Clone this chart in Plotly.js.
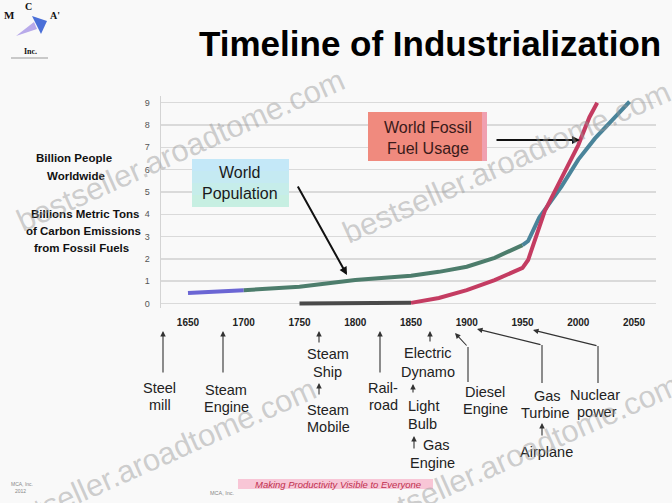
<!DOCTYPE html>
<html>
<head>
<meta charset="utf-8">
<script src="https://cdn.plot.ly/plotly-3.0.1.min.js"></script>
<style>html,body{margin:0;padding:0;background:#f9f9f9;}#chart{width:672px;height:503px;}</style>
</head>
<body>
<div id="chart"></div>
<script>
// ---- data ----
const tickYears = [1650, 1700, 1750, 1800, 1850, 1900, 1950, 2000, 2050];
const yTicks = [0, 1, 2, 3, 4, 5, 6, 7, 8, 9];

const popYears  = [1650, 1700, 1750, 1800, 1850, 1875, 1900, 1925, 1950, 1955, 1965, 1985, 2000, 2015, 2030, 2046];
const popValues = [0.47, 0.60, 0.75, 1.05, 1.25, 1.42, 1.65, 2.05, 2.62, 2.80, 3.85, 5.25, 6.45, 7.40, 8.20, 9.05];

const fossilYears  = [1750, 1800, 1850, 1875, 1900, 1925, 1950, 1955, 1970, 1990, 2000, 2010, 2017];
const fossilValues = [0, 0, 0.03, 0.25, 0.60, 1.05, 1.60, 1.95, 4.15, 6.10, 7.10, 8.35, 9.00];

const events = [
  {lines: ["Steel", "mill"]},
  {lines: ["Steam", "Engine"]},
  {lines: ["Steam", "Ship"]},
  {lines: ["Steam", "Mobile"]},
  {lines: ["Rail-", "road"]},
  {lines: ["Electric", "Dynamo"]},
  {lines: ["Light", "Bulb"]},
  {lines: ["Gas", "Engine"]},
  {lines: ["Diesel", "Engine"]},
  {lines: ["Gas", "Turbine"]},
  {lines: ["Nuclear", "power"]},
  {lines: ["Airplane"]}
];

// ---- geometry of the plot area (pixels) ----
const L = 161, R = 656, T = 96, B = 308;
const W = R - L, H = B - T;
const px = v => (v - L) / W;
const py = v => (B - v) / H;

function seg(xs, ys, from, to) {
  const ox = [], oy = [];
  xs.forEach((x, i) => { if (x >= from && x <= to) { ox.push(x); oy.push(ys[i]); } });
  return {x: ox, y: oy};
}

const traces = [];
function addLine(s, color) {
  traces.push({type: 'scatter', mode: 'lines', x: s.x, y: s.y,
    line: {color: color, width: 4}, hoverinfo: 'skip', showlegend: false});
}
addLine(seg(popYears, popValues, 1650, 1700), '#6b66d4');
addLine(seg(popYears, popValues, 1700, 1950), '#4d7d6c');
addLine(seg(popYears, popValues, 1950, 2100), '#4a849a');
addLine(seg(fossilYears, fossilValues, 1750, 1850), '#4a4a4a');
addLine(seg(fossilYears, fossilValues, 1850, 2100), '#c43c62');

const annotations = [];
const shapes = [];

function txt(x, y, text, size, opts) {
  annotations.push(Object.assign({xref: 'paper', yref: 'paper', x: px(x), y: py(y), text: text,
    showarrow: false, xanchor: 'center', yanchor: 'middle',
    font: {family: 'Arial, Liberation Sans', size: size, color: '#222'}}, opts || {}));
}
function arrow(hx, hy, tx, ty, opts) {
  annotations.push(Object.assign({xref: 'paper', yref: 'paper', x: px(hx), y: py(hy),
    ax: tx - hx, ay: ty - hy, text: '', showarrow: true, arrowhead: 2, arrowsize: 1,
    arrowwidth: 1.1, arrowcolor: '#333'}, opts || {}));
}
function line(x0, y0, x1, y1, color, width) {
  shapes.push({type: 'line', xref: 'paper', yref: 'paper', x0: px(x0), y0: py(y0), x1: px(x1), y1: py(y1),
    line: {color: color || '#333', width: width || 1.1}});
}
function rect(x0, y0, x1, y1, fill) {
  shapes.push({type: 'rect', xref: 'paper', yref: 'paper', x0: px(x0), y0: py(y0), x1: px(x1), y1: py(y1),
    fillcolor: fill, line: {width: 0}, layer: 'above'});
}

// title
txt(430, 43, '<b>Timeline of Industrialization</b>', 35, {font: {family: 'Arial, Liberation Sans', size: 35, color: '#000'}});

// logo
txt(9, 15, '<b>M</b>', 11, {font: {family: 'Liberation Serif, Times New Roman', size: 11, color: '#111'}});
txt(28, 6, '<b>C</b>', 10, {font: {family: 'Liberation Serif, Times New Roman', size: 10, color: '#111'}});
txt(55, 15, '<b>A\'</b>', 10, {font: {family: 'Liberation Serif, Times New Roman', size: 10, color: '#111'}});
txt(30, 51, '<b>Inc.</b>', 8, {font: {family: 'Liberation Serif, Times New Roman', size: 8, color: '#111'}});
shapes.push({type: 'path', xref: 'paper', yref: 'paper', layer: 'above',
  path: `M ${px(16)} ${py(36)} L ${px(34)} ${py(22)} L ${px(37)} ${py(29)} Z`, fillcolor: '#b8aaea', line: {width: 0}});
shapes.push({type: 'path', xref: 'paper', yref: 'paper', layer: 'above',
  path: `M ${px(32)} ${py(16)} L ${px(47)} ${py(21)} L ${px(41)} ${py(34)} Z`, fillcolor: '#4a6fd8', line: {width: 0}});
line(11, 58, 48, 58, '#999', 1);

// left axis descriptions
const lf = {family: 'Arial, Liberation Sans', size: 11.5, color: '#111'};
txt(74, 158, '<b>Billion People</b>', 11.5, {font: lf});
txt(76, 176, '<b>Worldwide</b>', 11.5, {font: lf});
txt(85, 214, '<b>Billions Metric Tons</b>', 11.5, {font: lf});
txt(83, 231, '<b>of Carbon Emissions</b>', 11.5, {font: lf});
txt(81, 248, '<b>from Fossil Fuels</b>', 11.5, {font: lf});

// World Population box (light blue -> mint)
const popFills = ['#c4e8f8', '#c5eaf2', '#c6edea', '#c7efe2'];
popFills.forEach((c, i) => rect(192, 159 + i * 12, 289, 159 + (i + 1) * 12, c));
txt(240, 172, 'World', 16, {font: {family: 'Arial, Liberation Sans', size: 16, color: '#1a1a1a'}});
txt(240, 193, 'Population', 16, {font: {family: 'Arial, Liberation Sans', size: 16, color: '#1a1a1a'}});
arrow(347, 275, 297, 185, {arrowwidth: 2, arrowcolor: '#111', arrowsize: 0.8});

// World Fossil Fuel Usage box
rect(368, 112, 487, 161, '#f08a7e');
rect(482, 112, 487, 161, '#f0a0b0');
txt(428, 127, 'World Fossil', 16, {font: {family: 'Arial, Liberation Sans', size: 16, color: '#3a1a1a'}});
txt(428, 148, 'Fuel Usage', 16, {font: {family: 'Arial, Liberation Sans', size: 16, color: '#3a1a1a'}});
arrow(580, 140, 495, 140, {arrowwidth: 2, arrowcolor: '#111', arrowsize: 0.8});

// events under the axis
const evPos = [
  [[159, 388], [160, 405]],
  [[226, 390], [226, 407]],
  [[328, 354], [327, 372]],
  [[328, 410], [328, 427]],
  [[383, 388], [383, 405]],
  [[428, 353], [428, 372]],
  [[423, 406], [422, 424]],
  [[436, 445], [432, 463]],
  [[485, 392], [485, 409]],
  [[547, 396], [545, 413]],
  [[595, 395], [597, 412]],
  [[546, 452]]
];
events.forEach((e, i) => e.lines.forEach((t, j) => txt(evPos[i][j][0], evPos[i][j][1], t, 14.5)));

arrow(163, 331, 163, 374);
arrow(223, 331, 223, 374);
arrow(319, 331, 319, 344);
arrow(319, 383, 319, 396);
arrow(380, 331, 380, 374);
arrow(430, 331, 430, 343);
arrow(413, 384, 413, 394);
arrow(414, 436, 414, 450);
line(468, 382, 468, 347); arrow(455, 333, 468, 347);
line(542, 383, 542, 345); arrow(477, 329, 542, 345);
line(598, 383, 598, 346); arrow(533, 330, 598, 346);
arrow(542, 423, 542, 437);

// footer
rect(238, 479, 433, 489, '#f8c6d6');
txt(338, 484, '<i>Making Productivity Visible to Everyone</i>', 9.5, {font: {family: 'Arial, Liberation Sans', size: 9.5, color: '#c0304f'}});
txt(222, 493, 'MCA, Inc.', 5.5, {font: {family: 'Arial, Liberation Sans', size: 5.5, color: '#888'}});
txt(22, 484, 'MCA, Inc.', 5, {font: {family: 'Arial, Liberation Sans', size: 5, color: '#888'}});
txt(20, 491, '2012', 5, {font: {family: 'Arial, Liberation Sans', size: 5, color: '#888'}});

// watermarks
const wm = {family: 'Arial, Liberation Sans', size: 31, color: 'rgba(150,150,150,0.45)'};
[[180, 150], [506, 162], [152, 460], [515, 455]].forEach(c =>
  txt(c[0], c[1], 'bestseller.aroadtome.com', 31, {textangle: -24, font: wm}));

const layout = {
  width: 672, height: 503,
  margin: {l: L, r: 672 - R, t: T, b: 503 - B, pad: 0},
  paper_bgcolor: '#f9f9f9', plot_bgcolor: '#f9f9f9',
  showlegend: false,
  xaxis: {
    range: [1625.8, 2069.7], tickvals: tickYears, ticktext: tickYears.map(y => '<b>' + y + '</b>'),
    showgrid: false, zeroline: false, showline: false, ticks: '', ticklabelstandoff: 7,
    tickfont: {family: 'Arial, Liberation Sans', size: 10, color: '#222'}, fixedrange: true
  },
  yaxis: {
    range: [-0.2, 9.3], tickvals: yTicks, ticktext: yTicks.map(String),
    showgrid: true, gridcolor: '#dadada', gridwidth: 1.5, zeroline: false,
    showline: true, linecolor: '#d4d4d4', linewidth: 1.5, ticks: '', ticklabelstandoff: 8,
    tickfont: {family: 'Arial, Liberation Sans', size: 9, color: '#555'}, fixedrange: true
  },
  annotations: annotations,
  shapes: shapes
};

Plotly.newPlot('chart', traces, layout, {displayModeBar: false, staticPlot: true});
</script>
</body>
</html>
